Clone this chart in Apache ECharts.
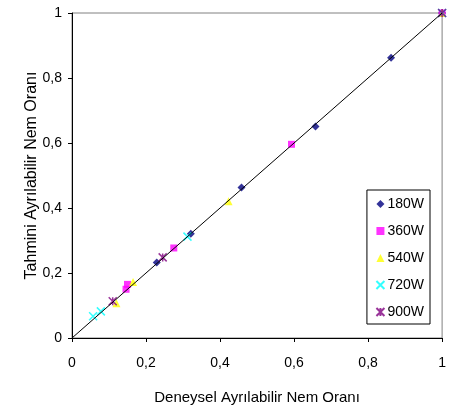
<!DOCTYPE html>
<html>
<head>
<meta charset="utf-8">
<script src="https://cdn.jsdelivr.net/npm/echarts@6/dist/echarts.min.js"></script>
<style>html,body{margin:0;padding:0;background:#fff}#c{width:449px;height:410px}</style>
</head>
<body>
<div id="c"></div>
<script>
const seriesNames = ['180W', '360W', '540W', '720W', '900W'];
const data180 = [[1, 1], [0.862, 0.862], [0.658, 0.651], [0.458, 0.463], [0.321, 0.321], [0.229, 0.232]];
const data360 = [[1, 1], [0.593, 0.596], [0.275, 0.277], [0.150, 0.165], [0.146, 0.150]];
const data540 = [[1, 1], [0.423, 0.421], [0.165, 0.172], [0.120, 0.107]];
const data720 = [[1, 1], [0.312, 0.312], [0.078, 0.082], [0.057, 0.067]];
const data900 = [[1, 1], [0.245, 0.248], [0.110, 0.113]];
const diagX = [0, 1];
const axisTicks = [0, 0.2, 0.4, 0.6, 0.8, 1];
const xTitle = 'Deneysel Ayrılabilir Nem Oranı';
const yTitle = 'Tahmini Ayrılabilir Nem Oranı';

const fmt = v => String(+v.toFixed(1)).replace('.', ',');
const font = 'Liberation Sans, Arial, sans-serif';

const chart = echarts.init(document.getElementById('c'), null, {renderer: 'canvas'});
const axisCommon = {
  type: 'value', min: 0, max: 1, interval: 0.2,
  axisLine: {show: true, onZero: false, lineStyle: {color: '#000', width: 1}},
  axisTick: {show: true, inside: false, length: 4, lineStyle: {color: '#000'}},
  splitLine: {show: false},
  axisLabel: {formatter: fmt, color: '#000', fontSize: 14, fontFamily: font},
  nameLocation: 'middle',
  nameMoveOverlap: false
};
chart.setOption({
  animation: false,
  backgroundColor: '#fff',
  grid: {left: 72, right: 6, top: 13, bottom: 70, show: true, borderColor: '#808080', borderWidth: 1, backgroundColor: 'transparent'},
  xAxis: Object.assign({}, axisCommon, {
    name: xTitle, nameGap: 52,
    nameTextStyle: {color: '#000', fontSize: 15, fontFamily: font},
    axisLabel: Object.assign({}, axisCommon.axisLabel, {margin: 18})
  }),
  yAxis: Object.assign({}, axisCommon, {
    name: yTitle, nameGap: 32,
    nameTextStyle: {color: '#000', fontSize: 16, fontFamily: font},
    axisLabel: Object.assign({}, axisCommon.axisLabel, {margin: 10})
  }),
  legend: {
    data: seriesNames, orient: 'vertical', right: 19, top: 190,
    borderColor: '#000', borderWidth: 1, padding: [7, 6, 5, 7], itemGap: 13,
    itemWidth: 8, itemHeight: 8,
    textStyle: {color: '#000', fontSize: 14, fontFamily: font, padding: [0, 0, 0, -2]},
    backgroundColor: '#fff'
  },
  series: [
    {name: '180W', type: 'scatter', data: data180, symbol: 'diamond', symbolSize: 8, itemStyle: {color: '#000080'}},
    {name: '360W', type: 'scatter', data: data360, symbol: 'rect', symbolSize: 7, itemStyle: {color: '#FF00FF'}},
    {name: '540W', type: 'scatter', data: data540, symbol: 'triangle', symbolSize: 8, itemStyle: {color: '#FFFF00'}},
    {name: '720W', type: 'scatter', data: data720, symbol: 'path://M0,0L10,10M10,0L0,10', symbolSize: 8,
      itemStyle: {color: 'none', borderColor: '#00FFFF', borderWidth: 1.5}},
    {name: '900W', type: 'scatter', data: data900, symbol: 'path://M0,0L10,10M10,0L0,10M5,0L5,10', symbolSize: 8,
      itemStyle: {color: 'none', borderColor: '#800080', borderWidth: 1.5}},
    {name: 'diag', type: 'line', data: diagX.map(v => [v, v]), symbol: 'none', z: 5,
      lineStyle: {color: '#000', width: 1}, silent: true}
  ]
});
</script>
</body>
</html>
